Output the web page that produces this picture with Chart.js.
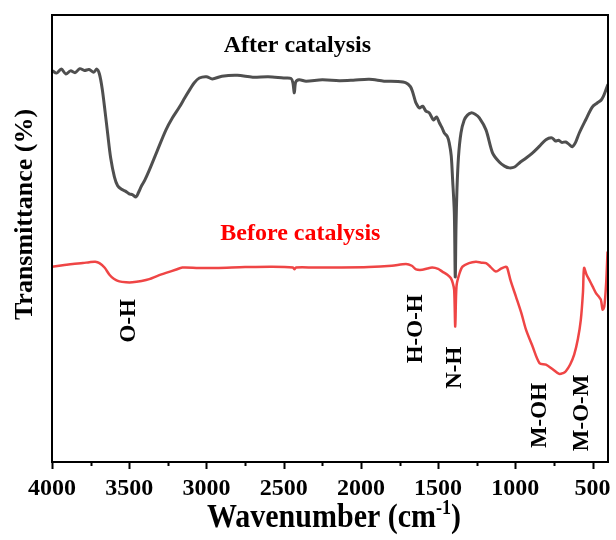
<!DOCTYPE html>
<html lang="en">

<head>
  <meta charset="UTF-8" />
  <title>FTIR - before / after catalysis</title>
  <script src="https://cdn.jsdelivr.net/npm/chart.js"></script>
  <style>
    html, body { margin: 0; padding: 0; background: #fff; }
    #wrap { width: 616px; height: 540px; }
  </style>
</head>

<body>
  <div id="wrap"><canvas id="ftir"></canvas></div>

  <script>
    // wavenumber (cm-1) and transmittance (a.u., 0-100)
    const wnAfter = [4000, 3970, 3940, 3910, 3880, 3850, 3820, 3790, 3760, 3730, 3710, 3693, 3675, 3655, 3640, 3620, 3596, 3575, 3550, 3525, 3500, 3480, 3456, 3440, 3420, 3400, 3370, 3320, 3262, 3220, 3175, 3140, 3110, 3080, 3046, 3000, 2962, 2900, 2800, 2700, 2600, 2500, 2452, 2440, 2431, 2422, 2400, 2355, 2250, 2140, 2050, 1946, 1850, 1760, 1708, 1680, 1667, 1650, 1643, 1622, 1600, 1579, 1557, 1530, 1510, 1492, 1475, 1460, 1440, 1428, 1415, 1406, 1395, 1389, 1384, 1378, 1368, 1352, 1331, 1310, 1287, 1260, 1233, 1190, 1147, 1104, 1070, 1039, 1005, 974, 930, 890, 845, 802, 762, 740, 720, 700, 673, 650, 632, 610, 586, 545, 502, 470, 446, 430, 414, 400];
    const tAfter = [87.6, 87.0, 87.9, 86.8, 87.5, 87.1, 88.0, 87.6, 87.8, 87.2, 87.9, 86.8, 83.5, 78.0, 73.6, 68.0, 63.8, 61.8, 61.0, 60.6, 60.0, 59.8, 59.3, 60.3, 61.8, 63.0, 65.3, 69.5, 74.3, 77.0, 79.4, 81.5, 83.2, 84.8, 85.9, 86.2, 85.7, 86.3, 86.5, 86.1, 86.2, 85.9, 85.8, 84.8, 82.6, 85.0, 85.5, 85.2, 85.5, 85.3, 85.4, 85.6, 85.2, 85.1, 84.8, 84.0, 83.0, 81.0, 80.3, 79.2, 79.6, 78.5, 78.1, 76.5, 77.2, 75.9, 74.8, 73.6, 72.8, 71.4, 68.5, 63.1, 55.7, 41.4, 52.8, 60.9, 68.3, 73.6, 76.5, 77.6, 78.1, 77.8, 77.0, 74.3, 69.1, 67.1, 66.2, 65.8, 66.0, 66.9, 68.0, 69.1, 70.6, 72.1, 72.5, 71.8, 72.0, 71.5, 71.6, 71.0, 70.5, 71.5, 73.6, 76.5, 79.4, 80.3, 80.9, 81.8, 83.2, 84.5];

    const wnBefore = [4000, 3930, 3866, 3800, 3758, 3720, 3693, 3660, 3628, 3600, 3564, 3520, 3480, 3420, 3370, 3320, 3262, 3200, 3156, 3050, 2938, 2750, 2574, 2440, 2431, 2420, 2300, 2140, 1950, 1800, 1708, 1670, 1643, 1603, 1570, 1538, 1500, 1473, 1440, 1417, 1405, 1396, 1389, 1381, 1365, 1342, 1300, 1255, 1220, 1190, 1160, 1126, 1090, 1061, 1052, 1030, 996, 960, 931, 890, 843, 802, 760, 716, 690, 673, 645, 619, 595, 576, 562, 555, 540, 522, 500, 478, 460, 446, 435, 424, 412, 403];
    const tBefore = [43.7, 44.0, 44.3, 44.5, 44.7, 44.8, 44.5, 43.5, 41.9, 41.0, 40.4, 40.2, 40.2, 40.5, 40.9, 41.6, 42.3, 43.0, 43.5, 43.4, 43.4, 43.6, 43.7, 43.5, 43.1, 43.5, 43.5, 43.5, 43.6, 43.9, 44.3, 43.9, 43.1, 43.0, 43.3, 43.5, 43.2, 42.6, 41.9, 41.1, 40.0, 38.5, 30.3, 39.3, 41.8, 43.7, 44.5, 44.8, 44.6, 44.5, 43.6, 42.6, 43.3, 43.7, 43.4, 40.5, 37.0, 33.2, 29.6, 26.0, 22.1, 21.8, 20.8, 19.7, 19.9, 20.3, 21.8, 24.0, 27.5, 31.8, 38.0, 43.4, 42.0, 40.8, 39.3, 37.8, 37.0, 36.3, 34.1, 34.8, 40.0, 47.1];

    const majorTicks = [4000, 3500, 3000, 2500, 2000, 1500, 1000, 500];
    const minorTicks = [3750, 3250, 2750, 2250, 1750, 1250, 750];

    // band labels: text, wavenumber, transmittance of label centre
    const bandNames = ['O-H', 'H-O-H', 'N-H', 'M-OH', 'M-O-M'];
    const bandWn = [3500, 1640, 1390, 840, 565];
    const bandT = [31.6, 29.8, 21.1, 10.4, 11.0];

    const seriesNames = ['After catalysis', 'Before catalysis'];
    const seriesLabelWn = [2411, 2392];
    const seriesLabelT = [93.2, 51.0];

    const serif = '"Liberation Serif", "Times New Roman", serif';

    const pts = (xs, ys) => xs.map((x, i) => ({ x, y: ys[i] }));

    const decor = {
      id: 'decor',
      afterDraw(chart) {
        const { ctx, chartArea: a, scales: { x, y } } = chart;
        ctx.save();

        // frame
        ctx.strokeStyle = '#000';
        ctx.lineWidth = 2;
        ctx.strokeRect(a.left, a.top, a.right - a.left, a.bottom - a.top);

        // ticks below the axis
        ctx.beginPath();
        majorTicks.forEach(v => {
          const px = Math.round(x.getPixelForValue(v)) + 0.5;
          ctx.moveTo(px, a.bottom); ctx.lineTo(px, a.bottom + 7);
        });
        minorTicks.forEach(v => {
          const px = Math.round(x.getPixelForValue(v)) + 0.5;
          ctx.moveTo(px, a.bottom); ctx.lineTo(px, a.bottom + 4);
        });
        ctx.stroke();

        // series labels
        ctx.textAlign = 'center';
        ctx.textBaseline = 'middle';
        ctx.font = 'bold 24px ' + serif;
        ['#000', '#ff0000'].forEach((c, i) => {
          ctx.fillStyle = c;
          ctx.fillText(seriesNames[i], x.getPixelForValue(seriesLabelWn[i]), y.getPixelForValue(seriesLabelT[i]));
        });

        // band labels, rotated
        ctx.fillStyle = '#000';
        ctx.font = 'bold 23px ' + serif;
        bandNames.forEach((t, i) => {
          ctx.save();
          ctx.translate(x.getPixelForValue(bandWn[i]), y.getPixelForValue(bandT[i]));
          ctx.rotate(-Math.PI / 2);
          ctx.fillText(t, 0, 0);
          ctx.restore();
        });

        // y title
        ctx.save();
        ctx.translate(25, (a.top + a.bottom) / 2 - 24);
        ctx.rotate(-Math.PI / 2);
        ctx.font = 'bold 26px ' + serif;
        ctx.fillText('Transmittance (%)', 0, 0);
        ctx.restore();

        // x title with superscript
        ctx.save();
        ctx.textAlign = 'left';
        ctx.textBaseline = 'alphabetic';
        const big = 'bold 30px ' + serif, small = 'bold 18px ' + serif;
        ctx.font = big;
        const w1 = ctx.measureText('Wavenumber (cm').width;
        const w3 = ctx.measureText(')').width;
        ctx.font = small;
        const w2 = ctx.measureText('-1').width;
        let px = (a.left + a.right) / 2 + 4 - (w1 + w2 + w3) / 2;
        ctx.translate(0, 527);
        ctx.scale(1, 1.12);
        ctx.font = big;
        ctx.fillText('Wavenumber (cm', px, 0);
        ctx.font = small;
        ctx.fillText('-1', px + w1, -12);
        ctx.font = big;
        ctx.fillText(')', px + w1 + w2, 0);
        ctx.restore();

        ctx.restore();
      }
    };

    new Chart(document.getElementById('ftir'), {
      type: 'line',
      data: {
        datasets: [{
          label: seriesNames[0],
          data: pts(wnAfter, tAfter),
          borderColor: '#4f4f4f',
          borderWidth: 3,
          pointRadius: 0,
          tension: 0.3
        }, {
          label: seriesNames[1],
          data: pts(wnBefore, tBefore),
          borderColor: '#ef4545',
          borderWidth: 2.5,
          pointRadius: 0,
          tension: 0.3
        }]
      },
      options: {
        responsive: true,
        maintainAspectRatio: false,
        animation: false,
        layout: { padding: { left: 52, right: 8, top: 15, bottom: 0 } },
        plugins: { legend: { display: false }, tooltip: { enabled: false } },
        scales: {
          x: {
            type: 'linear',
            reverse: true,
            min: 400,
            max: 4000,
            afterBuildTicks: s => { s.ticks = majorTicks.map(v => ({ value: v })); },
            afterFit: s => { s.height = 78; s.paddingLeft = 0; s.paddingRight = 0; },
            grid: { display: false, drawTicks: false },
            border: { display: false },
            ticks: {
              autoSkip: false,
              maxRotation: 0,
              padding: 12,
              color: '#000',
              font: { family: serif, size: 24, weight: 'bold' },
              callback: v => String(v)
            }
          },
          y: {
            display: false,
            min: 0,
            max: 100
          }
        }
      },
      plugins: [decor]
    });
  </script>
</body>

</html>
